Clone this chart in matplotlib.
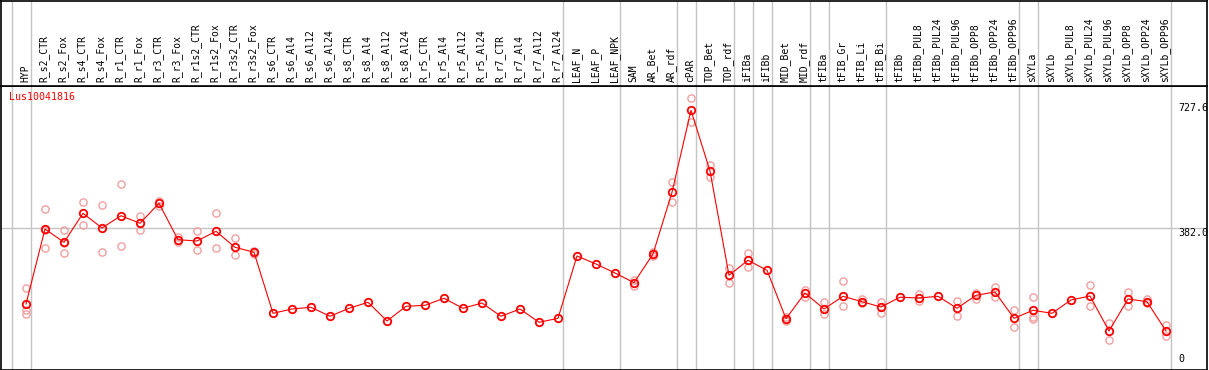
import numpy as np
import matplotlib
matplotlib.use('Agg')
import matplotlib.pyplot as plt
import matplotlib.transforms as mtransforms

# Sample names (x axis)
samples = ['HYP', 'R_s2_CTR', 'R_s2_Fox', 'R_s4_CTR', 'R_s4_Fox', 'R_r1_CTR', 'R_r1_Fox',
           'R_r3_CTR', 'R_r3_Fox', 'R_r1s2_CTR', 'R_r1s2_Fox', 'R_r3s2_CTR', 'R_r3s2_Fox',
           'R_s6_CTR', 'R_s6_Al4', 'R_s6_Al12', 'R_s6_Al24', 'R_s8_CTR', 'R_s8_Al4',
           'R_s8_Al12', 'R_s8_Al24', 'R_r5_CTR', 'R_r5_Al4', 'R_r5_Al12', 'R_r5_Al24',
           'R_r7_CTR', 'R_r7_Al4', 'R_r7_Al12', 'R_r7_Al24', 'LEAF_N', 'LEAF_P', 'LEAF_NPK',
           'SAM', 'AR_Bet', 'AR_rdf', 'cPAR', 'TOP_Bet', 'TOP_rdf', 'iFIBa', 'iFIBb',
           'MID_Bet', 'MID_rdf', 'tFIBa', 'tFIB_Gr', 'tFIB_Li', 'tFIB_Bi', 'tFIBb',
           'tFIBb_PUL8', 'tFIBb_PUL24', 'tFIBb_PUL96', 'tFIBb_OPP8', 'tFIBb_OPP24', 'tFIBb_OPP96',
           'sXYLa', 'sXYLb', 'sXYLb_PUL8', 'sXYLb_PUL24', 'sXYLb_PUL96', 'sXYLb_OPP8',
           'sXYLb_OPP24', 'sXYLb_OPP96']

# mean expression per sample
means = [172.4, 379.2, 342.5, 422.5, 382.0, 415.9, 394.9, 450.1, 349.7, 346.1, 372.9, 328.8, 315.0,
         146.7, 158.6, 163.3, 138.5, 160.5, 177.1, 125.5, 166.0, 168.8, 188.1, 160.5, 175.1,
         138.5, 158.6, 121.9, 132.9, 304.8, 282.7, 257.9,
         231.1, 310.3, 480.4, 706.6, 539.2, 251.5, 292.9, 265.3,
         131.8, 202.7, 158.6, 193.6, 178.7, 164.1, 191.1,
         188.9, 193.6, 160.5, 196.4, 205.5, 132.9,
         155.0, 146.7, 183.4, 194.4, 97.9, 186.2, 178.7, 97.9]

# individual replicates per sample (empty where only the mean is shown)
replicates = [[215.7, 157.0, 146.0], [434.4, 326.0, 377.0], [375.6, 312.2, 340.0],
              [452.9, 389.4], [444.6, 315.0], [502.5, 331.5], [415.1, 375.6],
              [456.4, 442.6], [358.0, 344.2], [372.9, 320.5], [422.5, 326.0],
              [353.6, 306.7], [317.7, 310.3],
              [], [], [], [], [], [], [], [], [], [], [], [], [], [], [], [], [], [], [],
              [238.6, 222.0], [314.4, 306.1], [508.9, 453.7], [739.7, 674.3],
              [555.7, 521.8], [272.5, 230.3], [313.0, 275.3], [],
              [137.3, 126.3], [211.0, 192.5], [177.1, 145.6], [235.8, 166.0],
              [185.3, 174.3], [177.1, 148.4], [],
              [199.9, 179.8], [], [180.6, 140.1], [203.5, 187.0], [220.1, 192.5],
              [155.8, 109.8],
              [190.9, 137.3, 131.8], [], [], [223.9, 166.0], [120.8, 72.2],
              [205.5, 166.0], [185.3, 174.3], [113.6, 84.1]]

# group separators: line drawn just after these sample indices
separators = [-1, 0, 28, 31, 34, 35, 37, 38, 39, 41, 42, 45, 52, 53, 60]
scale_marks = [727.6, 382.0, 0]
gene = 'Lus10041816'

W, H = 1209, 370
fig = plt.figure(figsize=(W / 100, H / 100), dpi=100)
header_px = 86

x = np.arange(len(samples))
xlim = ((1 - 26) / 19, (1207 - 26) / 19)

ax = fig.add_axes([1 / W, 0.5 / H, 1206 / W, (H - header_px - 0.5) / H])
hx = fig.add_axes([1 / W, (H - header_px) / H, 1206 / W, (header_px - 0.5) / H])

mono = 'DejaVu Sans Mono'
grid_c = '#c4c4c4'

for a in (ax, hx):
    a.set_xlim(*xlim)
    a.set_xticks([])
    a.set_yticks([])
    for s in a.spines.values():
        s.set_color('black')
        s.set_linewidth(1.2)
    for sep in separators:
        a.axvline(sep + 0.24, color=grid_c, linewidth=1.0, zorder=0)

# header with rotated sample labels
hx.set_ylim(header_px, 0)
for i, name in enumerate(samples):
    hx.text(i - 0.05, 82, name, rotation=90, ha='center', va='bottom',
            fontsize=7.0, family=mono, color='black')

# main plot
ax.set_ylim(-8.3, 773.6)
ax.axhline(382.0, color=grid_c, linewidth=1.0, zorder=0)

for i, reps in enumerate(replicates):
    if reps:
        ax.plot([i] * len(reps), reps, 'o', markersize=5.2, markerfacecolor='none',
                markeredgecolor='#f0a0a0', markeredgewidth=1.0, zorder=2)

ax.plot(x, means, '-', color='red', linewidth=0.8, zorder=3)
ax.plot(x, means, 'o', markersize=5.4, markerfacecolor='none',
        markeredgecolor='red', markeredgewidth=1.3, zorder=4)

trans = mtransforms.blended_transform_factory(ax.transAxes, ax.transData)
ylo = ax.get_ylim()[0]
for v in scale_marks:
    if v > 10:
        ax.text(0.9765, v, f'{v:.1f}', transform=trans, ha='left', va='top',
                fontsize=7.2, family=mono, color='black')
    else:
        ax.text(0.9765, max(v, ylo) + 8, '0', transform=trans, ha='left', va='bottom',
                fontsize=7.2, family=mono, color='black')

ax.text(0.0069, 0.98, gene, transform=ax.transAxes, ha='left', va='top',
        fontsize=7.2, family=mono, color='red')

plt.savefig('out.png', dpi=100)
print("saved out.png")
